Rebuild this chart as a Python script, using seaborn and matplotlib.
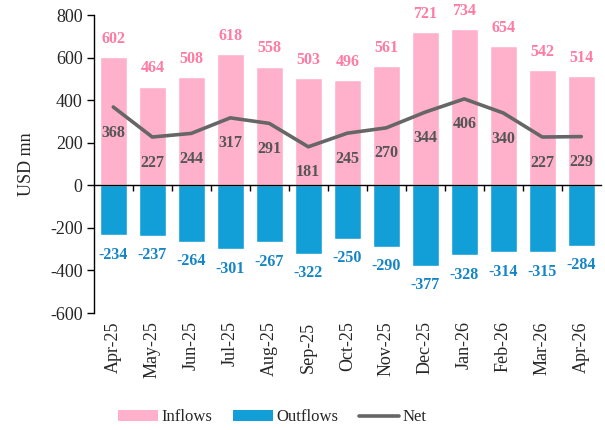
import numpy as np
import pandas as pd
import matplotlib
matplotlib.use("Agg")
import matplotlib.pyplot as plt
import seaborn as sns
from matplotlib.patches import Patch
from matplotlib.lines import Line2D

months = ["Apr-25", "May-25", "Jun-25", "Jul-25", "Aug-25", "Sep-25", "Oct-25",
          "Nov-25", "Dec-25", "Jan-26", "Feb-26", "Mar-26", "Apr-26"]
inflows = [602, 464, 508, 618, 558, 503, 496, 561, 721, 734, 654, 542, 514]
outflows = [-234, -237, -264, -301, -267, -322, -250, -290, -377, -328, -314, -315, -284]
net = [368, 227, 244, 317, 291, 181, 245, 270, 344, 406, 340, 227, 229]

PINK = "#FFB1CB"
BLUE = "#129FD7"
GREY = "#666666"
PINK_TXT = "#FF7BA3"
BLUE_TXT = "#1585C6"
GREY_TXT = "#555555"

sns.set_style("white")
plt.rcParams["font.family"] = ["Liberation Serif", "DejaVu Serif"]

df = pd.DataFrame({"month": months, "inflows": inflows, "outflows": outflows, "net": net})

fig = plt.figure(figsize=(6.05, 4.30), dpi=100)
ax = fig.add_axes([0.155, 0.272, 0.838, 0.693])

sns.barplot(data=df, x="month", y="inflows", color=PINK, width=0.7,
            saturation=1, ax=ax, zorder=2)
sns.barplot(data=df, x="month", y="outflows", color=BLUE, width=0.7,
            saturation=1, ax=ax, zorder=2)
sns.lineplot(x=np.arange(len(months)), y=df["net"], color=GREY, linewidth=2.6,
             ax=ax, zorder=3)

for i, (a, b, c) in enumerate(zip(inflows, outflows, net)):
    ax.text(i, a + 85, f"{a}", ha="center", va="center", color=PINK_TXT,
            fontsize=11.5, fontweight="bold", zorder=4)
    ax.text(i, b - 91, f"{b}", ha="center", va="center", color=BLUE_TXT,
            fontsize=11.5, fontweight="bold", zorder=4)
    ax.text(i, c - 120, f"{c}", ha="center", va="center", color=GREY_TXT,
            fontsize=11.5, fontweight="bold", zorder=4)

ax.set_xlim(-0.5, len(months) - 0.5)
ax.set_ylim(-600, 800)
ax.set_yticks(np.arange(-600, 801, 200))
ax.set_yticklabels([f"{v}" for v in range(-600, 801, 200)], fontsize=13)
ax.set_ylabel("USD mn", fontsize=13, labelpad=11)
ax.set_xlabel("")

# x axis line sits at zero; category labels hang below the plot area
for s in ["top", "right"]:
    ax.spines[s].set_visible(False)
ax.spines["left"].set_color("black")
ax.spines["left"].set_linewidth(1.0)
ax.spines["bottom"].set_position(("data", 0))
ax.spines["bottom"].set_color("black")
ax.spines["bottom"].set_linewidth(1.0)
ax.spines["bottom"].set_zorder(5)

ax.tick_params(axis="y", which="major", direction="out", length=5, width=1,
               left=True, color="black", pad=3)
ax.set_xticks(np.arange(len(months)))
ax.set_xticklabels(months, rotation=90, fontsize=13)
ax.tick_params(axis="x", which="major", length=0, pad=98)
ax.set_xticks(np.arange(len(months) - 1) + 0.5, minor=True)
ax.tick_params(axis="x", which="minor", direction="out", length=4, width=1,
               bottom=True, color="black")

handles = [Patch(facecolor=PINK, edgecolor="none", label="Inflows"),
           Patch(facecolor=BLUE, edgecolor="none", label="Outflows"),
           Line2D([0], [0], color=GREY, linewidth=2.6, label="Net")]
fig.legend(handles=handles, loc="center", bbox_to_anchor=(0.45, 0.03), ncol=3,
           frameon=False, fontsize=12, handlelength=2.4, handleheight=0.6,
           columnspacing=1.25, handletextpad=0.2)

fig.savefig("out.png", dpi=100)
